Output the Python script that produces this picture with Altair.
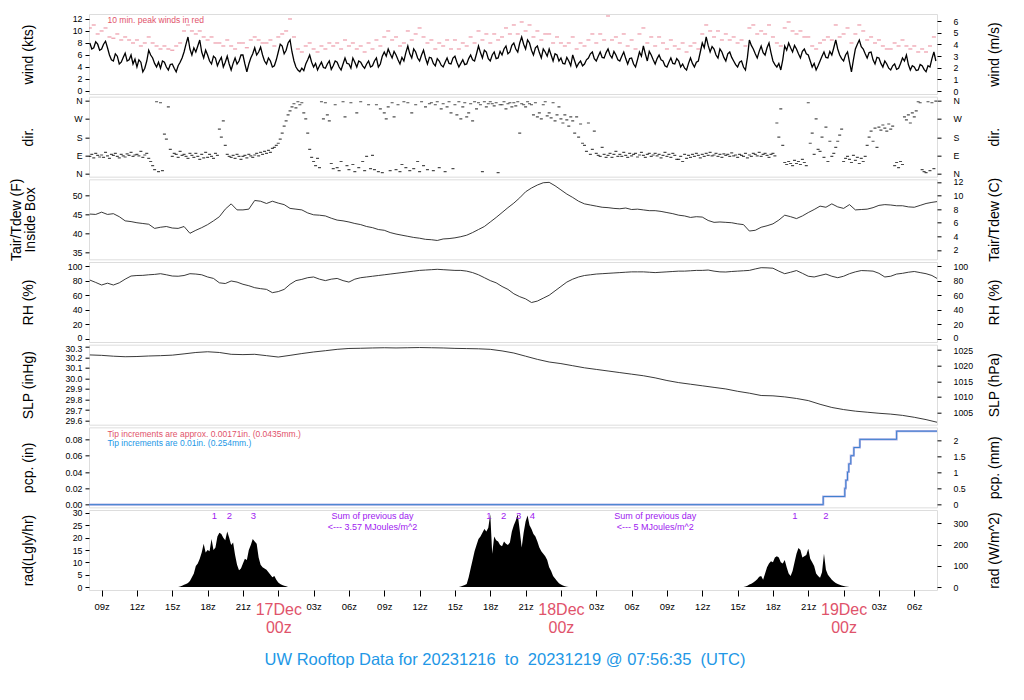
import altair as alt
import pandas as pd

FONT = "Liberation Sans"
RED = "#DF536B"
BLUE = "#2297E6"
PURPLE = "#A020F0"
X0, X1 = 7.93, 79.93
W, H = 848, 80

# ---------------- data (hours since 2023-12-16 00z) ----------------
# wind (kts), every 10 minutes from 08z Dec 16
wind_kts = [
    8.0, 7.0, 7.2, 8.2, 7.8, 6.8, 7.0, 7.8, 8.3, 7.2, 6.0, 5.2,
    5.0, 6.2, 5.8, 4.5, 4.8, 5.6, 6.3, 5.0, 5.2, 6.0, 4.5, 5.3,
    4.0, 5.2, 4.8, 3.2, 3.8, 5.0, 6.8, 6.0, 5.5, 4.6, 4.0, 4.8,
    3.8, 5.0, 4.8, 4.0, 3.5, 4.4, 4.5, 3.8, 3.2, 4.2, 4.8, 5.5,
    6.5, 7.8, 9.0, 7.0, 6.0, 7.2, 6.5, 7.5, 8.5, 6.5, 5.5, 6.8,
    6.0, 5.0, 4.5, 5.8, 5.5, 4.2, 5.0, 5.6, 4.0, 4.8, 5.8, 4.5,
    3.5, 4.6, 5.5, 4.5, 5.0, 6.0, 6.0, 4.5, 3.2, 4.5, 5.5, 6.2,
    7.2, 6.0, 6.5, 7.3, 6.0, 5.0, 4.5, 5.5, 5.0, 4.0, 4.2, 5.2,
    6.5, 7.8, 7.5, 6.2, 6.8, 8.0, 8.5, 6.5, 5.0, 4.0, 3.5, 3.2,
    3.8, 3.4, 4.5, 5.2, 6.0, 4.8, 4.0, 4.6, 3.5, 4.2, 4.8, 3.9,
    3.8, 4.5, 5.0, 3.6, 4.2, 5.0, 4.8, 4.0, 3.5, 4.5, 5.5, 4.6,
    4.5, 3.8, 5.5, 4.8, 4.0, 5.0, 4.8, 4.2, 3.8, 4.5, 5.0, 4.0,
    4.2, 5.0, 5.5, 4.0, 4.5, 5.8, 6.5, 5.8, 7.0, 6.2, 5.5, 6.6,
    6.0, 5.2, 4.5, 5.6, 5.0, 6.4, 7.5, 6.2, 5.5, 7.0, 6.5, 5.5,
    5.0, 6.0, 6.8, 5.5, 4.5, 5.6, 5.5, 4.6, 4.2, 5.4, 5.0, 4.3,
    4.0, 4.8, 5.5, 4.6, 4.5, 5.5, 5.8, 4.8, 4.0, 4.6, 5.2, 4.4,
    4.5, 5.4, 6.0, 5.2, 5.0, 6.2, 7.5, 6.4, 5.5, 6.8, 6.5, 5.4,
    5.0, 6.0, 6.5, 5.4, 5.5, 6.6, 6.0, 7.0, 7.5, 6.2, 6.5, 7.6,
    8.0, 7.0, 6.5, 8.0, 9.0, 7.8, 7.0, 8.5, 8.0, 6.8, 6.0, 7.2,
    7.5, 6.4, 5.5, 7.0, 6.5, 5.8, 7.0, 6.0, 5.0, 6.2, 6.0, 5.0,
    5.5, 4.6, 4.5, 5.6, 5.0, 4.2, 6.0, 5.0, 4.0, 4.6, 5.0, 4.2,
    4.5, 5.2, 5.5, 6.2, 6.5, 5.4, 5.0, 5.8, 6.5, 5.6, 5.5, 6.4,
    7.0, 6.0, 5.5, 6.6, 6.0, 5.2, 5.0, 5.8, 6.5, 5.4, 4.5, 5.4,
    5.5, 4.5, 4.0, 5.2, 6.5, 5.8, 7.5, 6.2, 5.0, 6.6, 6.0, 5.2,
    4.5, 5.4, 6.0, 5.2, 5.0, 4.2, 4.0, 4.8, 5.5, 4.6, 4.5, 5.4,
    5.0, 4.0, 4.5, 3.8, 3.5, 4.6, 5.5, 4.6, 4.0, 4.8, 5.0, 6.5,
    8.0, 7.2, 9.0, 7.6, 6.5, 7.4, 7.0, 6.0, 5.5, 7.0, 6.5, 5.6,
    5.0, 6.2, 6.5, 5.6, 5.0, 4.4, 4.0, 4.8, 5.0, 4.0, 3.5, 5.6,
    8.5, 7.6, 7.0, 6.2, 5.5, 6.6, 7.5, 6.4, 6.0, 7.2, 8.0, 6.4,
    5.0, 4.4, 4.0, 4.6, 3.5, 5.2, 7.5, 6.8, 8.0, 7.2, 6.5, 7.6,
    7.0, 6.2, 5.5, 6.6, 7.0, 6.2, 6.0, 5.0, 4.0, 4.6, 3.5, 4.2,
    5.0, 5.8, 6.5, 5.6, 5.5, 6.6, 6.0, 7.2, 8.5, 7.0, 6.0, 5.4,
    5.0, 6.0, 6.5, 4.8, 3.2, 5.2, 7.0, 7.8, 8.5, 7.4, 7.0, 6.2,
    5.5, 6.4, 6.5, 5.2, 4.5, 5.6, 5.5, 4.6, 4.0, 5.0, 4.5, 3.8,
    3.5, 4.2, 4.5, 3.6, 3.8, 4.6, 5.5, 5.0, 6.0, 4.4, 3.5, 4.2,
    4.0, 3.4, 3.5, 4.4, 4.2, 3.6, 3.2, 4.2, 4.0, 5.4, 6.5, 5.0,
]
# 10-min peak wind (kts), every 20 minutes from 08z Dec 16
peak_kts = [
    10.5, 11.0, 9.5, 10.0, 10.5, 9.0, 8.8, 9.5, 8.5, 9.0, 8.5, 8.0, 8.5, 7.5, 8.0,
    9.0, 8.0, 7.5, 7.0, 7.5, 7.0, 6.8, 7.5, 8.0, 10.0, 11.0, 10.0, 9.5, 10.0, 9.0,
    8.5, 9.0, 8.0, 8.0, 7.5, 8.5, 7.5, 7.0, 8.0, 8.0, 7.2, 8.5, 9.0, 8.5, 8.0,
    8.0, 8.5, 7.5, 9.0, 9.5, 10.0, 12.0, 9.0, 7.0, 6.5, 7.5, 8.0, 7.0, 6.5, 7.5,
    7.0, 8.0, 7.5, 8.0, 7.0, 8.5,
    7.5, 8.0, 7.0, 7.5, 6.5, 8.0, 7.0, 8.5, 7.5, 9.0, 10.0, 8.5, 9.0, 7.5, 8.0,
    10.0, 8.5, 9.5, 10.5, 9.0, 8.0, 8.5, 7.0, 8.0, 7.5, 8.5, 7.0, 8.5, 7.0, 8.0,
    7.5, 9.0, 8.0, 10.0, 8.5, 9.5, 8.0, 9.5, 8.5, 9.0, 10.5, 9.5, 11.0, 9.5, 11.5,
    10.0, 11.0, 9.0, 10.0, 8.5, 9.5, 9.5, 8.0, 9.0, 8.0, 7.5, 8.0, 9.0, 7.0, 8.0,
    7.5, 8.5, 9.5, 8.0, 9.5, 8.5, 12.5, 8.5, 9.0, 8.0, 9.5, 7.5, 8.5, 7.0, 9.5,
    10.5, 8.0, 9.0, 7.5, 9.0, 8.0, 7.0, 8.5, 7.5,
    7.0, 8.0, 6.5, 7.5, 8.0, 7.0, 9.5, 11.0, 10.0, 9.0, 10.0, 8.5, 9.5, 8.5, 9.0,
    8.0, 8.5, 7.5, 10.5, 11.0, 9.5, 10.0, 9.5, 11.0, 9.0, 8.0, 7.5, 10.5, 11.5, 10.0,
    9.5, 10.0, 9.0, 9.0, 7.5, 7.0, 8.0, 8.5, 9.0, 8.5, 11.0, 9.0, 9.5, 10.5, 8.0,
    9.5, 11.0, 10.0, 8.5, 9.0, 8.0, 8.5, 7.5, 7.0, 7.0, 8.0, 7.5, 8.5, 7.5, 7.0,
    7.5, 6.5, 7.0, 6.5, 7.5, 9.0,
]
# wind direction (deg), every 10 minutes from 08z Dec 16
dir_deg = [
    85, 95, 78, 100, 90, 82, 92, 80, 105, 88, 75, 95, 90, 100, 85, 78, 95, 88,
    82, 98, 90, 105, 85, 92, 95, 88, 110, 80, 92, 100, 75, 60, 40, 20, 355, 10,
    350, 15, 195, 170, 330, 120, 85, 100, 95, 80, 110, 90, 95, 85, 75, 100, 90, 80,
    100, 85, 70, 95, 78, 105, 80, 95, 85, 75, 100, 90, 220, 180, 260, 140, 95, 85,
    80, 90, 75, 95, 85, 70, 85, 90, 78, 95, 88, 80, 92, 100, 88, 105, 95, 110,
    100, 115, 105, 125, 130, 140, 150, 170, 200, 235, 260, 290, 310, 330, 345, 325, 355, 340,
    350, 300, 270, 200, 120, 80, 60, 40, 75, 30, 355, 270, 350, 290, 260, 50, 25, 340,
    30, 15, 60, 355, 280, 40,
    20, 350, 45, 10, 300, 30, 355, 60, 15, 85, 340, 25, 90, 20, 340, 10, 320, 5,
    300, 270, 330, 15, 350, 280, 20, 340, 10, 45, 355, 30, 350, 15, 300, 25, 340, 60,
    10, 355, 40, 330, 20, 345, 350, 15, 340, 355, 30, 320, 345, 10, 330, 355, 300, 25,
    340, 290, 355, 270, 330, 350, 280, 300, 345, 260, 355, 320, 350, 340, 10, 355, 330, 345,
    355, 345, 335, 350, 5, 340, 340, 355, 320, 345, 350, 330, 350, 335, 355, 200, 345, 340,
    330, 355, 345, 340, 290, 350, 280, 300, 270, 340, 355, 285, 300, 275, 350, 260, 290, 330,
    270, 250, 290, 265, 235, 280, 260, 200, 280, 180, 245, 150, 140, 110, 250, 95, 120, 210,
    100, 90, 85, 130, 95, 80, 90, 100, 80, 95, 110, 85, 95, 85, 105, 90, 80, 100,
    88, 95, 100, 82, 92, 105, 90, 80, 95, 100, 85, 92, 100, 88, 95, 78, 90, 105,
    85, 95, 80, 100, 90, 70,
    70, 85, 60, 95, 75, 90, 80, 95, 85, 100, 90, 78, 95, 85, 100, 90, 105, 88,
    92, 100, 85, 95, 80, 98, 90, 95, 85, 102, 88, 92, 80, 95, 90, 85, 100, 78,
    92, 85, 100, 95, 88, 105, 85, 95, 100, 90, 80, 95, 100, 88, 250, 180, 320, 140,
    55, 45, 60, 50, 40, 65, 50, 60, 45, 70, 55, 40, 350, 150, 200, 95, 270, 120,
    110, 180, 80, 230, 60, 160, 85, 100, 130, 160, 190, 220, 60, 75, 85, 70, 55, 90,
    65, 80, 50, 75, 60, 85, 140, 180, 210, 160, 225, 130, 230, 215, 240, 225, 210, 245,
    220, 235, 40, 55, 30, 60, 45, 280, 265, 290, 250, 300, 280, 310, 355, 350, 20, 10,
    5, 355, 15, 350, 25, 358,
]
# half-hourly temperature and RH, 08z Dec 16 .. 07:30z Dec 19, plus last obs
half_t = [8 + i / 2 for i in range(144)] + [79.93]
temp_f = [
    45.1, 45.0, 45.6, 45.0, 45.2, 44.4, 43.3, 43.1, 42.8, 42.6, 42.4, 41.3,
    41.6, 41.8, 41.4, 41.3, 41.8, 40.0, 40.8, 41.5, 42.3, 43.3, 44.4, 46.4,
    47.8, 46.2, 46.2, 46.4, 48.7, 48.5, 47.9, 48.5, 48.0, 47.6, 46.6, 46.4,
    46.2, 45.4, 44.9, 44.8, 44.6, 44.0, 43.5, 43.3, 43.0, 42.6, 42.3, 41.8,
    41.5, 41.0, 40.8, 40.2, 39.8, 39.5, 39.2, 38.9, 38.7, 38.4, 38.3, 38.1,
    38.5, 38.6, 38.8, 39.1, 39.5, 40.2, 41.0, 41.8, 43.0, 44.2, 45.5, 46.8,
    48.0, 49.4, 51.0, 52.0, 52.8, 53.4, 53.5, 52.6, 51.5, 50.4, 49.5, 48.5,
    47.8, 47.5, 47.2, 46.9, 46.8, 46.6, 46.5, 46.7, 46.3, 46.4, 46.2, 46.0,
    46.0, 45.8, 45.5, 45.2, 44.8, 44.6, 44.2, 44.4, 44.3, 43.4, 42.9, 43.0,
    42.9, 42.8, 42.5, 42.3, 40.6, 40.8, 41.6, 42.0, 42.5, 43.5, 44.8, 44.4,
    43.9, 44.6, 45.5, 46.3, 47.2, 46.9, 47.8, 47.0, 46.6, 47.6, 46.2, 46.3,
    46.4, 46.8, 47.4, 47.6, 47.5, 47.3, 47.3, 47.0, 46.9, 47.4, 47.9, 48.2,
    48.4,
]
rh_pct = [
    80.8, 77.5, 74, 76.5, 74, 77, 82, 86.3, 87, 87.2, 88, 88.5,
    89.5, 88, 86.3, 86, 87, 89.5, 89, 88, 85, 83, 77, 76,
    79.5, 78, 75, 73, 70.3, 69, 68, 63.5, 65, 68, 75, 80,
    81.7, 84, 85, 82, 80, 82, 83, 80, 78, 82, 84, 85,
    86, 87, 88, 89, 90, 91, 92, 93, 94, 94.5, 95, 95.5,
    95, 94.5, 94, 94, 93, 91, 88, 84, 80, 77, 72, 68,
    62, 58, 55, 50, 52, 56, 60, 66, 72, 78, 82, 85,
    87, 88, 89, 89.5, 90, 90.5, 91, 91.5, 92, 92, 92, 91.5,
    91, 91.5, 92, 92.5, 93, 93, 93.5, 94, 94, 94.5, 93, 92,
    91.8, 92.5, 93, 93.5, 94, 96, 97.7, 97.5, 97, 93, 89.5, 91.5,
    93.8, 90, 86, 85, 87, 89, 86, 84, 86, 89.5, 92, 93.8,
    93.5, 93, 90, 85, 86, 89, 90, 91.5, 92.5, 91, 89.5, 87,
    83,
]
# hourly sea level pressure (inHg)
hour_t = list(range(8, 80)) + [79.93]
slp_inhg = [
    30.222, 30.218, 30.210, 30.205, 30.207, 30.212, 30.215, 30.220, 30.232, 30.245,
    30.252, 30.245, 30.228, 30.225, 30.228, 30.215, 30.202, 30.218, 30.235, 30.250,
    30.262, 30.275, 30.283, 30.285, 30.288, 30.290, 30.288, 30.290, 30.292, 30.290,
    30.288, 30.284, 30.282, 30.280, 30.275, 30.260, 30.240, 30.210, 30.180, 30.155,
    30.140, 30.120, 30.100, 30.085, 30.070, 30.055, 30.040, 30.025, 30.005, 29.980,
    29.960, 29.945, 29.930, 29.915, 29.900, 29.878, 29.860, 29.838, 29.835, 29.825,
    29.810, 29.790, 29.755, 29.725, 29.705, 29.690, 29.680, 29.670, 29.662, 29.650,
    29.632, 29.610, 29.585,
]
# cumulative precipitation (in), step changes
pcp_t = [7.93, 70.27, 72.10, 72.19, 72.33, 72.44, 72.61, 72.87, 73.38, 76.50, 79.93]
pcp_in = [0.00, 0.01, 0.02, 0.03, 0.04, 0.05, 0.06, 0.07, 0.08, 0.09, 0.09]
# solar radiation (Langley/hr), 10-minute values for each daylight period
rad_start = [15.5, 39.3333, 63.5]
rad_day1 = [
    0, 0.2, 0.5, 0.9, 1.2, 1.6, 2.5, 4.0, 5.5, 8.5, 9.5, 11.5, 14.0, 17.5, 14.0,
    15.0, 14.5, 19.5, 15.0, 16.0, 20.5, 22.0, 21.5, 20.0, 19.0, 22.5, 20.0, 17.0, 18.0, 13.0,
    9.0, 6.8, 7.5, 9.5, 11.5, 11.0, 15.0, 17.0, 19.5, 18.5, 17.5, 12.0, 9.0, 8.0, 7.5,
    7.0, 6.0, 5.0, 4.0, 4.5, 3.0, 1.8, 1.2, 0.8, 0.5, 0.3, 0,
]
rad_day2 = [
    0, 0.2, 0.5, 0.8, 1.2, 4.0, 7.5, 11.0, 14.5, 17.0, 19.5, 20.5, 22.0, 23.5, 22.5,
    24.0, 29.5, 13.5, 20.5, 19.0, 18.5, 17.0, 16.5, 18.5, 17.5, 17.0, 18.0, 22.5, 25.0, 27.0,
    29.5, 23.0, 16.0, 22.0, 26.5, 29.0, 25.0, 23.5, 21.5, 20.5, 18.5, 16.0, 14.5, 13.5, 12.5,
    11.0, 8.0, 6.5, 4.5, 3.5, 2.5, 1.5, 1.0, 0.6, 0.3, 0.1, 0,
]
rad_day3 = [
    0, 0.2, 0.5, 1.0, 1.3, 1.8, 2.5, 3.2, 4.2, 4.5, 3.0, 5.5, 8.0, 9.5, 10.5,
    10.0, 12.0, 12.5, 12.0, 10.0, 9.5, 11.0, 8.0, 5.5, 4.5, 6.5, 10.0, 13.5, 15.8, 15.0,
    12.0, 12.5, 13.0, 15.5, 11.5, 10.0, 8.5, 5.5, 4.5, 3.8, 6.0, 13.5, 7.0, 5.0, 4.0,
    3.0, 2.2, 1.6, 1.2, 0.9, 0.6, 0.4, 0.2, 0.1, 0,
]
# numbered markers above the radiation trace
mark_t = [18.58, 19.85, 21.89, 41.89, 43.13, 44.40, 45.57, 67.86, 70.49]
mark_lab = ["1", "2", "3", "1", "2", "3", "4", "1", "2"]
sum_t = [32.0, 32.0, 56.0, 56.0]
sum_lab = ["Sum of previous day", "<--- 3.57 MJoules/m^2", "Sum of previous day", "<--- 5 MJoules/m^2"]
sum_row = [0, 1, 0, 1]

# ---------------- frames ----------------
wind_df = pd.DataFrame({"t": [8 + i / 6 for i in range(len(wind_kts))], "w": wind_kts})
peak_df = pd.DataFrame({"t": [8 + i / 3 for i in range(len(peak_kts))], "p": peak_kts})
dir_df = pd.DataFrame({"t": [8 + i / 6 for i in range(len(dir_deg))], "d": dir_deg})
half_df = pd.DataFrame({"t": half_t, "T": temp_f, "rh": rh_pct})
hr_df = pd.DataFrame({"t": hour_t, "slp": slp_inhg})
pcp_df = pd.DataFrame({"t": pcp_t, "p": pcp_in})
rows = []
for k, (s, vals) in enumerate(zip(rad_start, [rad_day1, rad_day2, rad_day3])):
    for i, v in enumerate(vals):
        rows.append({"t": s + i / 6, "r": v, "day": k})
rad_df = pd.DataFrame(rows)
mark_df = pd.DataFrame({"t": mark_t, "lab": mark_lab, "y": [28.8] * len(mark_t)})
sum_df = pd.DataFrame({"t": sum_t, "lab": sum_lab, "y": [28.8 if r == 0 else 24.3 for r in sum_row]})
note_w = pd.DataFrame({"t": [9.5], "y": [11.85], "lab": ["10 min. peak winds in red"]})
note_p = pd.DataFrame({"t": [9.5, 9.5], "y": [0.0865, 0.0755],
                       "lab": ["Tip increments are approx. 0.00171in. (0.0435mm.)",
                               "Tip increments are 0.01in. (0.254mm.)"],
                       "c": ["a", "b"]})

XS = alt.Scale(domain=[X0, X1], nice=False, zero=False)


def xe(axis=None):
    return alt.X("t:Q", scale=XS, axis=axis)


def yax(orient, values, title, tx, fmt=None, expr=None, lh=15, loff=None):
    kw = dict(orient=orient, values=values, title=title, grid=False, domain=False,
              tickSize=4, tickColor="black", tickWidth=1,
              labelFont=FONT, labelFontSize=8.8, labelColor="black",
              labelPadding=3 if orient == "left" else 12,
              labelOverlap=False, labelFlush=False,
              titleFont=FONT, titleFontSize=14, titleFontWeight="normal", titleColor="black",
              titleAngle=270, titleX=tx, titleY=H / 2, titleAlign="center",
              titleBaseline="middle", titleLineHeight=lh)
    if orient == "right":
        kw["labelAlign"] = "left"
    if fmt:
        kw["format"] = fmt
    if expr:
        kw["labelExpr"] = expr
    if loff:
        kw["labelOffset"] = {"condition": {"test": f"datum.value == {loff[0]}", "value": loff[1]}, "value": 0}
    return alt.Axis(**kw)


def ys(dom):
    return alt.Scale(domain=dom, nice=False, zero=False)


LT, RT = -61, 57


def panel(left_layers, df_right, field, rdom, raxis, xaxis=None):
    right = alt.Chart(df_right).mark_point(opacity=0, clip=True).encode(
        x=xe(xaxis), y=alt.Y(f"{field}:Q", scale=ys(rdom), axis=raxis))
    return alt.layer(alt.layer(*left_layers), right).resolve_scale(y="independent").properties(width=W, height=H)


# wind
wdom = [-0.5, 12.83]
wax = yax("left", [0, 2, 4, 6, 8, 10, 12], "wind (kts)", LT)
p1 = panel([
    alt.Chart(peak_df).mark_tick(orient="horizontal", size=4, thickness=1, color=RED, clip=True).encode(
        x=xe(), y=alt.Y("p:Q", scale=ys(wdom), axis=wax)),
    alt.Chart(wind_df).mark_line(color="black", strokeWidth=1.3, clip=True).encode(
        x=xe(), y=alt.Y("w:Q", scale=ys(wdom), axis=wax)),
    alt.Chart(note_w).mark_text(align="left", baseline="middle", font=FONT, fontSize=8.5, color=RED).encode(
        x=xe(), y=alt.Y("y:Q", scale=ys(wdom), axis=wax), text="lab:N"),
], wind_df, "w", [-0.257, 6.60], yax("right", [0, 1, 2, 3, 4, 5, 6], "wind (m/s)", RT))

# direction
dexpr = "datum.value == 90 ? 'E' : datum.value == 180 ? 'S' : datum.value == 270 ? 'W' : 'N'"
ddom = [-15, 380]
dax = yax("left", [0, 90, 180, 270, 360], "dir.", LT, expr=dexpr)
p2 = panel([
    alt.Chart(dir_df).mark_tick(orient="horizontal", size=3, thickness=1.2, color="black", clip=True).encode(
        x=xe(), y=alt.Y("d:Q", scale=ys(ddom), axis=dax)),
], dir_df, "d", ddom, yax("right", [0, 90, 180, 270, 360], "dir.", RT, expr=dexpr))

# temperature
tdom = [33.1, 54.3]
tax = yax("left", [35, 40, 45, 50], ["Tair/Tdew (F)", "Inside Box"], -73, lh=14)
p3 = panel([
    alt.Chart(half_df).mark_line(color="#222222", strokeWidth=0.9, clip=True).encode(
        x=xe(), y=alt.Y("T:Q", scale=ys(tdom), axis=tax)),
], half_df, "T", [0.61, 12.39], yax("right", [2, 4, 6, 8, 10, 12], "Tair/Tdew (C)", RT))

# RH
rdom = [-4.1, 105.5]
rax = yax("left", [0, 20, 40, 60, 80, 100], "RH (%)", LT, loff=(0, -1.5))
p4 = panel([
    alt.Chart(half_df).mark_line(color="#222222", strokeWidth=0.9, clip=True).encode(
        x=xe(), y=alt.Y("rh:Q", scale=ys(rdom), axis=rax)),
], half_df, "rh", rdom, yax("right", [0, 20, 40, 60, 80, 100], "RH (%)", RT, loff=(0, -1.5)))

# SLP
sdom = [29.562, 30.319]
sax = yax("left", [29.6, 29.7, 29.8, 29.9, 30.0, 30.1, 30.2, 30.3], "SLP (inHg)", LT, fmt=".1f",
          loff=(30.3, 1.5))
p5 = panel([
    alt.Chart(hr_df).mark_line(color="#222222", strokeWidth=0.9, clip=True).encode(
        x=xe(), y=alt.Y("slp:Q", scale=ys(sdom), axis=sax)),
], hr_df, "slp", [1001.08, 1026.72], yax("right", [1005, 1010, 1015, 1020, 1025], "SLP (hPa)", RT, fmt="d"))

# precipitation
pdom = [-0.0033, 0.0947]
pax = yax("left", [0, 0.02, 0.04, 0.06, 0.08], "pcp. (in)", LT, fmt=".2f")
p6 = panel([
    alt.Chart(pcp_df).mark_line(color="#aeb0e6", strokeWidth=2.2, interpolate="step-after", clip=True).encode(
        x=xe(), y=alt.Y("p:Q", scale=ys(pdom), axis=pax)),
    alt.Chart(pcp_df).mark_line(color="#3f80cf", strokeWidth=1, interpolate="step-after", clip=True).encode(
        x=xe(), y=alt.Y("p:Q", scale=ys(pdom), axis=pax)),
    alt.Chart(note_p).mark_text(align="left", baseline="middle", font=FONT, fontSize=8.5).encode(
        x=xe(), y=alt.Y("y:Q", scale=ys(pdom), axis=pax), text="lab:N",
        color=alt.Color("c:N", scale=alt.Scale(domain=["a", "b"], range=[RED, BLUE]), legend=None)),
], pcp_df, "p", [-0.084, 2.405], yax("right", [0, 0.5, 1, 1.5, 2], "pcp. (mm)", RT, fmt="~g"))

# radiation with time axis
lexpr = ("datum.value % 24 == 0 ? [(16 + datum.value / 24) + 'Dec', '00z'] : "
         "((datum.value % 24) < 10 ? '0' : '') + (datum.value % 24) + 'z'")
xax = alt.Axis(values=list(range(9, 79, 3)), labelExpr=lexpr, title=None, grid=False, domain=False,
               tickSize=6, tickColor="black", labelFont=FONT, labelBaseline="top", labelPadding=5,
               labelLineHeight=18, labelOverlap=False, labelFlush=False,
               labelFontSize={"condition": {"test": "datum.value % 24 == 0", "value": 16}, "value": 9.5},
               labelColor={"condition": {"test": "datum.value % 24 == 0", "value": RED}, "value": "black"})
radom = [-1.2, 31.2]
raax = yax("left", [0, 5, 10, 15, 20, 25, 30], "rad(Lgly/hr)", LT)
p7 = panel([
    alt.Chart(rad_df).mark_area(color="black", clip=True).encode(
        x=xe(xax), y=alt.Y("r:Q", scale=ys(radom), axis=raax), detail="day:N"),
    alt.Chart(mark_df).mark_text(baseline="middle", font=FONT, fontSize=9.5, color=PURPLE).encode(
        x=xe(xax), y=alt.Y("y:Q", scale=ys(radom), axis=raax), text="lab:N"),
    alt.Chart(sum_df).mark_text(baseline="middle", font=FONT, fontSize=9, color=PURPLE).encode(
        x=xe(xax), y=alt.Y("y:Q", scale=ys(radom), axis=raax), text="lab:N"),
], rad_df, "r", [-13.9, 362.6], yax("right", [0, 100, 200, 300], "rad (W/m^2)", RT), xaxis=xax)

title = alt.TitleParams(
    text="UW Rooftop Data for 20231216 \u00a0to \u00a020231219 @ 07:56:35 \u00a0(UTC)",
    orient="bottom", anchor="middle", color=BLUE, fontSize=16.5, font=FONT,
    fontWeight="normal", offset=16)

chart = alt.vconcat(p1, p2, p3, p4, p5, p6, p7, spacing=2.67, bounds="flush").properties(
    title=title, padding={"left": 0, "top": 5, "right": 5, "bottom": 5}
).configure_view(stroke="black", strokeWidth=1).configure(font=FONT)

chart.save("out.html", embed_options={"renderer": "svg", "actions": False})
